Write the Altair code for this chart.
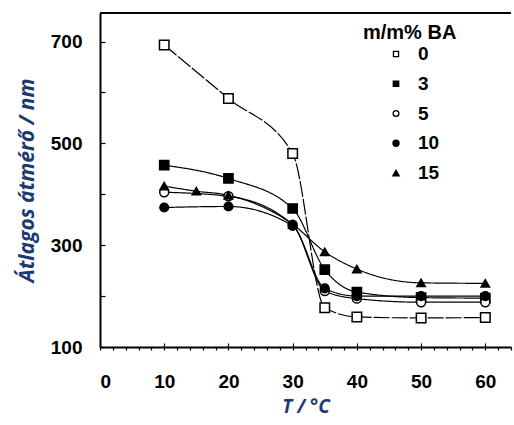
import altair as alt
import pandas as pd

# Mean particle diameter vs temperature for different BA contents (m/m%)
series_labels = ["0", "3", "5", "10", "15"]

temps_0 = [10, 20, 30, 35, 40, 50, 60]
diam_0 = [693, 588, 480, 177, 159, 157, 158]

temps_3 = [10, 20, 30, 35, 40, 50, 60]
diam_3 = [457, 431, 372, 252, 208, 197, 196]

temps_5 = [10, 20, 30, 35, 40, 50, 60]
diam_5 = [404, 396, 340, 210, 195, 188, 188]

temps_10 = [10, 20, 30, 35, 40, 50, 60]
diam_10 = [374, 376, 338, 215, 200, 200, 200]

temps_15 = [10, 15, 20, 30, 35, 40, 50, 60]
diam_15 = [416, 406, 398, 341, 287, 253, 226, 225]

x_ticks = list(range(0, 65, 2))
x_major = list(range(0, 61, 10))
y_ticks = list(range(100, 701, 100))
y_labels = [100, 300, 500, 700]

rows = []
for lab, ts, ds in [("0", temps_0, diam_0), ("3", temps_3, diam_3),
                    ("5", temps_5, diam_5), ("10", temps_10, diam_10),
                    ("15", temps_15, diam_15)]:
    for t, d in zip(ts, ds):
        rows.append({"BA": lab, "T": t, "D": d})
df = pd.DataFrame(rows)
key_df = pd.DataFrame({"BA": series_labels, "entry": series_labels})

W, H = 411, 334
x_scale = alt.Scale(domain=[0, 64], nice=False, zero=False)
y_scale = alt.Scale(domain=[100, 756], nice=False, zero=False)

shape_scale = alt.Scale(domain=series_labels,
                        range=["square", "square", "circle", "circle", "triangle-up"])
fill_scale = alt.Scale(domain=series_labels,
                       range=["white", "black", "white", "black", "black"])

label_font = "Liberation Sans"
title_font = "Open Sans"
title_color = "#1c3a72"

base = alt.Chart(df)

lines = base.mark_line(color="black", strokeWidth=1.2, interpolate="monotone").encode(
    x=alt.X("T:Q", scale=x_scale,
            axis=alt.Axis(orient="bottom", values=x_ticks,
                          labelExpr="datum.value % 10 === 0 ? datum.label : ''",
                          tickSize=3, tickWidth=1.2, tickColor="black",
                          labelPadding=22, labelFont=label_font, labelFontSize=19,
                          labelFontWeight="bold", labelColor="black",
                          domainWidth=2, domainColor="black", grid=False,
                          title="T / °C", titleFont=title_font, titleFontSize=19,
                          titleFontStyle="italic", titleFontWeight="bold",
                          titleColor=title_color, titlePadding=6)),
    y=alt.Y("D:Q", scale=y_scale,
            axis=alt.Axis(orient="left", values=y_labels, ticks=False,
                          labelPadding=18, labelFont=label_font, labelFontSize=19,
                          labelFontWeight="bold", labelColor="black",
                          domainWidth=2, domainColor="black", grid=False,
                          title="Átlagos átmérő / nm", titleFont=title_font,
                          titleFontSize=21, titleFontStyle="italic",
                          titleFontWeight="bold", titleColor=title_color,
                          titlePadding=13)),
    detail="BA:N",
    strokeDash=alt.StrokeDash("BA:N", sort=series_labels, legend=None,
                              scale=alt.Scale(domain=series_labels,
                                              range=[[16, 2], [1, 0], [1, 0], [1, 0], [1, 0]])),
)

points = base.mark_point(filled=True, stroke="black", strokeWidth=1.5, opacity=1).encode(
    x=alt.X("T:Q", scale=x_scale,
            axis=alt.Axis(orient="top", offset=-H, values=x_major, labels=False,
                          domain=False, tickSize=4, tickWidth=1.2, tickColor="black",
                          grid=False, title=None)),
    y=alt.Y("D:Q", scale=y_scale,
            axis=alt.Axis(orient="right", offset=-W, values=y_ticks, labels=False,
                          domain=False, tickSize=5, tickWidth=1.2, tickColor="black",
                          grid=False, title=None)),
    shape=alt.Shape("BA:N", scale=shape_scale, legend=None),
    fill=alt.Fill("BA:N", scale=fill_scale, legend=None),
    size=alt.Size("BA:N", scale=alt.Scale(domain=series_labels, range=[90, 70, 90, 40, 50]),
                  legend=None),
)

# key: one row per BA content, spread down the upper right corner
key_y = alt.Y("BA:N", scale=alt.Scale(type="point", domain=series_labels,
                                      range=[41, 160], padding=0), axis=None)

key_symbols = alt.Chart(key_df).mark_point(
    filled=True, stroke="black", strokeWidth=1.3, opacity=1
).encode(
    x=alt.value(296), y=key_y,
    shape=alt.Shape("BA:N", scale=shape_scale, legend=None),
    fill=alt.Fill("BA:N", scale=fill_scale, legend=None),
    size=alt.Size("entry:N", scale=alt.Scale(domain=series_labels,
                                             range=[26, 40, 28, 20, 20]),
                  legend=None),
)

key_labels = alt.Chart(key_df).mark_text(
    align="left", baseline="middle", font=label_font, fontSize=19,
    fontWeight="bold", color="black"
).encode(x=alt.value(318), y=key_y, text="BA:N")

key_title = alt.Chart(pd.DataFrame({"t": ["m/m% BA"]})).mark_text(
    align="left", baseline="middle", font=label_font, fontSize=20,
    fontWeight="bold", color="black"
).encode(text="t:N", x=alt.value(263), y=alt.value(20))

# top border of the frame
top_border = alt.Chart(pd.DataFrame({"a": [0]})).mark_rule(
    color="black", strokeWidth=2
).encode(x=alt.value(0), x2=alt.value(W), y=alt.value(0))

chart = alt.layer(
    lines, points, key_symbols, key_labels, key_title, top_border
).resolve_scale(y="independent", size="independent").resolve_axis(
    x="independent", y="independent"
).properties(
    width=W, height=H, autosize="none",
    padding={"left": 100, "top": 13, "right": 3, "bottom": 78},
    background="white",
).configure_view(stroke=None)

chart.save("out.html", embed_options={"renderer": "svg", "actions": False})
